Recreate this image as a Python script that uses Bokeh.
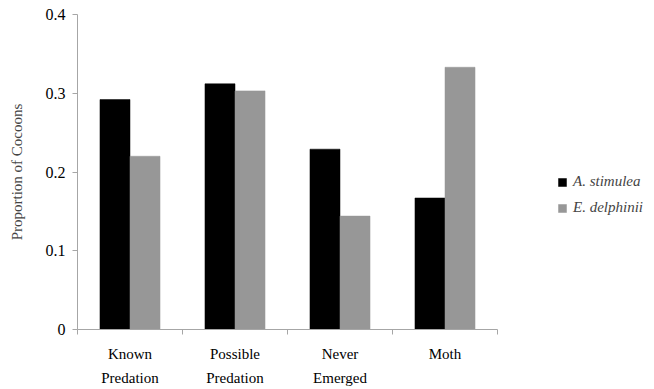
from bokeh.plotting import figure
from bokeh.models import FixedTicker, Legend, LegendItem, ColumnDataSource, Range1d
from bokeh.transform import dodge
from bokeh.embed import file_html
from bokeh.resources import INLINE

categories = ["Known\nPredation", "Possible\nPredation", "Never\nEmerged", "Moth"]
series_names = ["A. stimulea", "E. delphinii"]
a_stimulea = [0.292, 0.312, 0.229, 0.167]
e_delphinii = [0.220, 0.303, 0.144, 0.333]
y_ticks = [0, 0.1, 0.2, 0.3, 0.4]
y_tick_labels = ["0", "0.1", "0.2", "0.3", "0.4"]

FONT = "'Liberation Serif'"
centers = [i + 0.5 for i in range(len(categories))]
n = len(categories)

# frame extends right to host the legend; the axis line is bounded to the categories
p = figure(width=650, height=388, output_backend="svg", toolbar_location=None,
           x_range=Range1d(0, n * 569 / 420), y_range=Range1d(0, 0.4),
           min_border_left=77, min_border_right=4, min_border_top=14, min_border_bottom=59)
p.xgrid.visible = False
p.ygrid.visible = False
p.outline_line_color = None
p.background_fill_color = "white"

src = ColumnDataSource(dict(x=centers, a=a_stimulea, e=e_delphinii))
r1 = p.vbar(x=dodge("x", -0.143, range=p.x_range), top="a", width=0.286, bottom=0,
            source=src, fill_color="black", line_color="black", line_width=0.5)
r2 = p.vbar(x=dodge("x", 0.143, range=p.x_range), top="e", width=0.286, bottom=0,
            source=src, fill_color="#979797", line_color="#979797", line_width=0.5)

axis_col = "#a6a6a6"
xa = p.xaxis[0]
xa.bounds = (0, n)
xa.ticker = FixedTicker(ticks=centers, minor_ticks=list(range(n + 1)))
xa.major_label_overrides = {c: lab for c, lab in zip(centers, categories)}
xa.major_tick_line_color = None
xa.major_tick_out = 0
xa.major_tick_in = 0
xa.minor_tick_out = 5
xa.minor_tick_in = 0
xa.minor_tick_line_color = axis_col
xa.axis_line_color = axis_col
xa.major_label_text_font = FONT
xa.major_label_text_font_size = "15px"
xa.major_label_text_color = "black"
xa.major_label_text_line_height = 1.5
xa.major_label_standoff = 11

ya = p.yaxis[0]
ya.ticker = FixedTicker(ticks=y_ticks, minor_ticks=[])
ya.major_label_overrides = {t: l for t, l in zip(y_ticks, y_tick_labels)}
ya.major_tick_out = 5
ya.major_tick_in = 0
ya.major_tick_line_color = axis_col
ya.axis_line_color = axis_col
ya.major_label_text_font = FONT
ya.major_label_text_font_size = "16px"
ya.major_label_text_color = "black"
ya.major_label_standoff = 7
ya.axis_label = "Proportion of Cocoons"
ya.axis_label_text_font = FONT
ya.axis_label_text_font_style = "normal"
ya.axis_label_text_font_size = "15px"
ya.axis_label_standoff = 18

legend = Legend(items=[LegendItem(label=series_names[0], renderers=[r1]),
                       LegendItem(label=series_names[1], renderers=[r2])],
                location=(480, 113), orientation="vertical")
legend.border_line_color = None
legend.background_fill_alpha = 0
legend.padding = 0
legend.margin = 0
legend.glyph_width = 10
legend.glyph_height = 10
legend.label_standoff = 6
legend.spacing = 9
legend.label_text_font = FONT
legend.label_text_font_style = "italic"
legend.label_text_font_size = "15px"
p.add_layout(legend, "center")

open("out.html", "w").write(file_html(p, INLINE))
